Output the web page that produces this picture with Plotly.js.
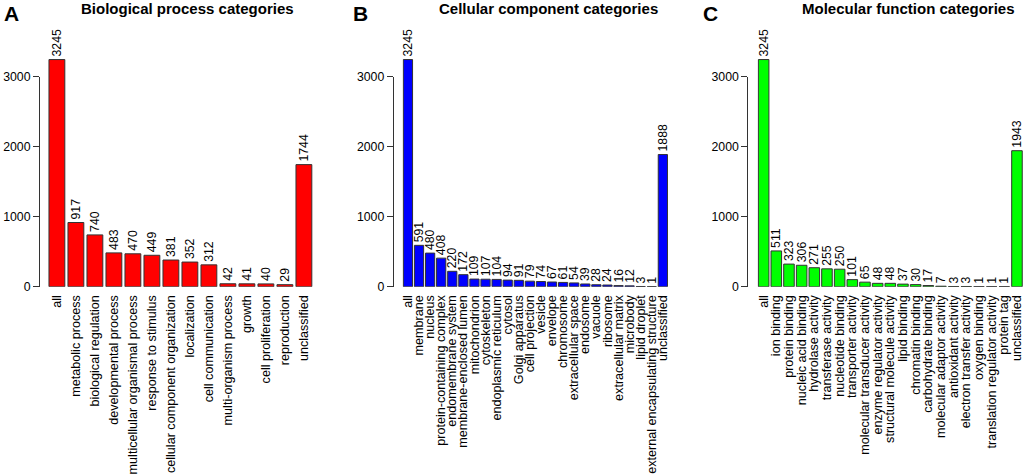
<!DOCTYPE html>
<html>
<head>
<meta charset="utf-8">
<script src="https://cdn.plot.ly/plotly-3.0.1.min.js"></script>
<style>html,body{margin:0;padding:0;background:#fff;}#chart{width:1024px;height:474px;}</style>
</head>
<body>
<div id="chart"></div>
<script>
// ---- data ----
const bpCategories = ["all","metabolic process","biological regulation","developmental process","multicellular organismal process","response to stimulus","cellular component organization","localization","cell communication","multi-organism process","growth","cell proliferation","reproduction","unclassified"];
const bpValues = [3245,917,740,483,470,449,381,352,312,42,41,40,29,1744];

const ccCategories = ["all","membrane","nucleus","protein-containing complex","endomembrane system","membrane-enclosed lumen","mitochondrion","cytoskeleton","endoplasmic reticulum","cytosol","Golgi apparatus","cell projection","vesicle","envelope","chromosome","extracellular space","endosome","vacuole","ribosome","extracellular matrix","microbody","lipid droplet","external encapsulating structure","unclassified"];
const ccValues = [3245,591,480,408,220,172,109,107,104,94,91,79,74,67,61,54,39,28,24,16,12,3,1,1888];

const mfCategories = ["all","ion binding","protein binding","nucleic acid binding","hydrolase activity","transferase activity","nucleotide binding","transporter activity","molecular transducer activity","enzyme regulator activity","structural molecule activity","lipid binding","chromatin binding","carbohydrate binding","molecular adaptor activity","antioxidant activity","electron transfer activity","oxygen binding","translation regulator activity","protein tag","unclassified"];
const mfValues = [3245,511,323,306,271,255,250,101,65,48,48,37,30,17,7,3,3,1,1,1,1943];

const panelTitles = ["Biological process categories","Cellular component categories","Molecular function categories"];
const panelLetters = ["A","B","C"];
const yTicks = [0,1000,2000,3000];

// ---- layout geometry (pixels) ----
const W = 1024, H = 474;
const fx = p => p / W;
const fy = p => 1 - p / H;
const zeroPx = 286.7, topTickPx = 76.7, topPx = 14;
const pxPerUnit = (zeroPx - topTickPx) / 3000;
const yMax = (zeroPx - topPx) / pxPerUnit;
const plotLeft = [47.4, 402.4, 757.3];
const plotWidth = 266;
const axisX = [39, 392.7, 747.3];
const titleX = [187.5, 548, 908];
const letterX = [2, 351, 701];
const colors = ["#FF0000","#0000FF","#00FF00"];

const cats = [bpCategories, ccCategories, mfCategories];
const vals = [bpValues, ccValues, mfValues];

const font = "Liberation Sans, Arial, sans-serif";
const data = [];
const layout = {
  width: W, height: H,
  margin: {l:0, r:0, t:0, b:0},
  paper_bgcolor: "#fff", plot_bgcolor: "rgba(0,0,0,0)",
  showlegend: false,
  bargap: 1/6,
  font: {family: font, size: 12, color: "#000"},
  annotations: []
};

for (let i = 0; i < 3; i++) {
  const s = i === 0 ? "" : String(i + 1);
  const sv = String(i + 4);
  data.push({
    type: "bar",
    x: cats[i], y: vals[i],
    xaxis: "x" + s, yaxis: "y" + s,
    marker: {color: colors[i], line: {color: "#333", width: 1}},
    text: vals[i].map(String),
    textposition: "outside",
    textangle: -90,
    textfont: {family: font, size: 12.3, color: "#000"},
    constraintext: "none",
    cliponaxis: false,
    hoverinfo: "x+y"
  });
  data.push({
    type: "scatter", mode: "markers", x: [], y: [],
    xaxis: "x" + s, yaxis: "y" + sv, hoverinfo: "skip"
  });
  layout["xaxis" + s] = {
    type: "category",
    domain: [fx(plotLeft[i]), fx(plotLeft[i] + plotWidth)],
    range: [-0.5, cats[i].length - 0.5],
    anchor: "y" + s,
    showline: false, showgrid: false, zeroline: false,
    ticks: "", tickangle: -90,
    ticklabelstandoff: 5,
    tickmode: "array", tickvals: cats[i], ticktext: cats[i],
    tickfont: {family: font, size: 12.6, color: "#000"},
    fixedrange: true
  };
  layout["yaxis" + s] = {
    domain: [fy(zeroPx), fy(topPx)],
    range: [0, yMax],
    anchor: "x" + s,
    visible: false,
    fixedrange: true
  };
  layout["yaxis" + sv] = {
    domain: [fy(zeroPx), fy(topTickPx)],
    range: [0, 3000],
    anchor: "free",
    position: fx(axisX[i]),
    showline: true, linecolor: "#333", linewidth: 1,
    ticks: "outside", ticklen: 6, tickcolor: "#333", tickwidth: 1,
    tickmode: "array", tickvals: yTicks, ticktext: yTicks.map(String),
    tickfont: {family: font, size: 12.3, color: "#000"},
    showgrid: false, zeroline: false,
    fixedrange: true
  };
  layout.annotations.push({
    xref: "paper", yref: "paper",
    x: fx(titleX[i]), y: fy(8), xanchor: "center", yanchor: "middle",
    text: "<b>" + panelTitles[i] + "</b>", showarrow: false,
    font: {family: font, size: 15, color: "#000"}
  });
  layout.annotations.push({
    xref: "paper", yref: "paper",
    x: fx(letterX[i]), y: fy(14), xanchor: "left", yanchor: "middle",
    text: "<b>" + panelLetters[i] + "</b>", showarrow: false,
    font: {family: font, size: 21, color: "#000"}
  });
}

Plotly.newPlot("chart", data, layout, {displayModeBar: false, staticPlot: true});
</script>
</body>
</html>
